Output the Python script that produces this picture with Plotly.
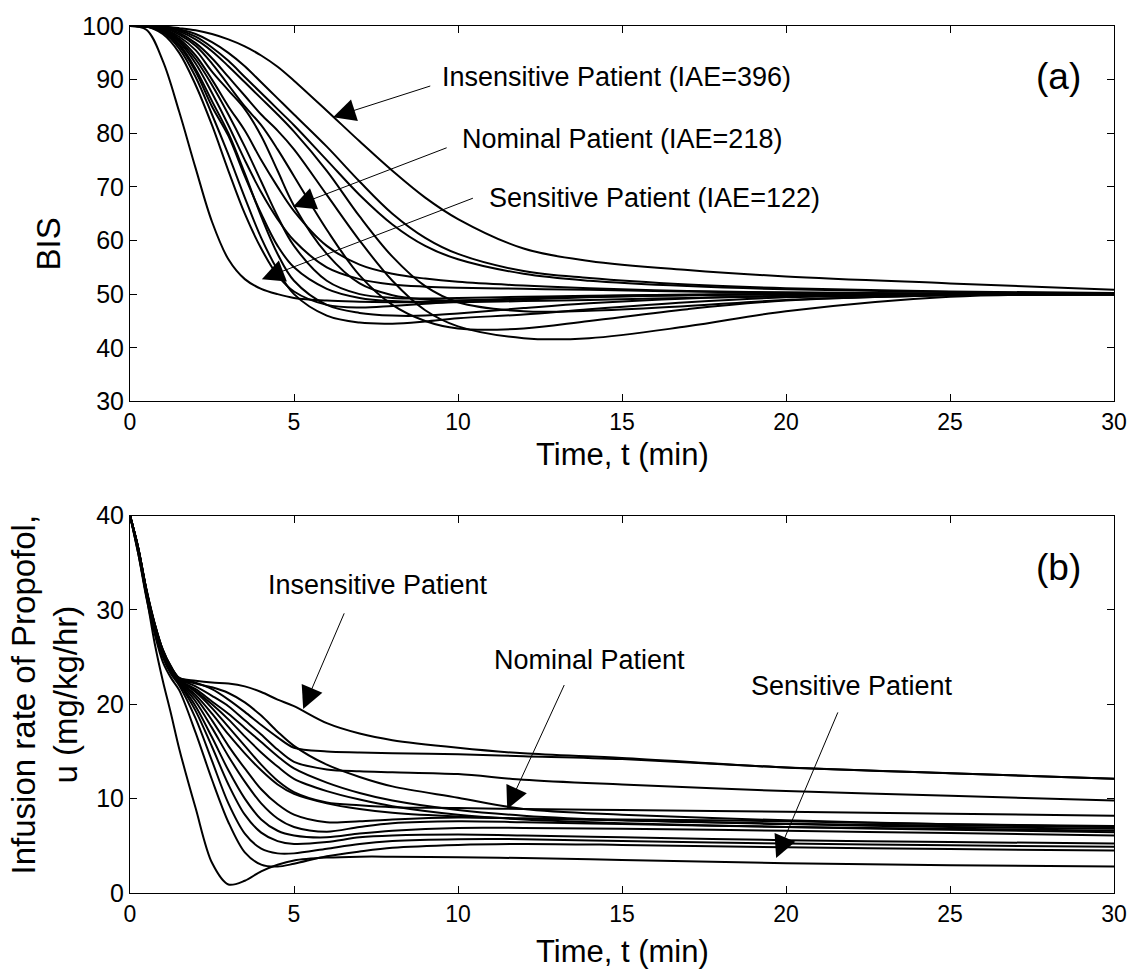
import plotly.graph_objects as go

# ---------------- data: (a) BIS response ----------------
t_bis = [0, 0.5, 1, 1.5, 2, 2.5, 3, 3.5, 4, 4.5, 5, 6, 7, 8, 9, 10, 12, 14, 17, 20, 25, 30]

bis_sensitive = [100, 99.3, 93.5, 84, 73.5, 63.5, 56.5, 52.8, 51, 50, 49.3, 48.8, 48.6, 48.5, 48.5, 48.5, 48.7, 48.9, 49.3, 49.6, 49.9, 50]
bis_p02 = [100, 99.9, 98.5, 95, 89, 81.5, 73, 65, 58.5, 53.5, 50.5, 48, 47.5, 47.8, 48.2, 48.6, 49.2, 49.6, 49.9, 50, 50, 50]
bis_p03 = [100, 99.9, 98.8, 95.8, 90.5, 83.5, 76, 68, 60.5, 54.5, 50, 46, 44.7, 44.5, 44.9, 45.5, 46.2, 47.2, 48.5, 49.4, 49.9, 50]
bis_p04 = [100, 99.9, 99, 96.3, 91.5, 85, 79.5, 72, 65, 59, 55, 51, 49.3, 48.7, 48.6, 48.8, 49.2, 49.5, 49.8, 50, 50, 50]
bis_p05 = [100, 99.9, 99.1, 96.6, 92, 86, 80, 72.5, 64.5, 57.5, 52.5, 48, 46.5, 46, 46, 46.4, 47.4, 48.3, 49.2, 49.7, 50, 50]
bis_p06 = [100, 99.9, 99.2, 97, 93, 87.5, 81.5, 75, 69, 64, 60, 55, 52.8, 51.8, 51.4, 51.2, 51, 50.8, 50.5, 50.3, 50.1, 50]
bis_p07 = [100, 99.9, 99.3, 97.3, 93.8, 89, 83.5, 77.5, 71, 64.5, 59, 52.5, 50, 49.3, 49.2, 49.3, 49.5, 49.7, 49.9, 50, 50, 50]
bis_p08 = [100, 99.9, 99.4, 97.6, 94.5, 90, 85, 80.5, 75, 70, 65.5, 59, 55.5, 53.8, 52.9, 52.3, 51.6, 51.1, 50.6, 50.3, 50.1, 50]
bis_nominal = [100, 99.9, 99.5, 98, 95.5, 91.5, 88, 84.5, 79.5, 73, 66.5, 57.5, 52, 49.8, 49, 48.8, 49, 49.4, 49.8, 50, 50, 50]
bis_p10 = [100, 100, 99.6, 98.4, 96.3, 93, 89, 85, 81.5, 77, 72, 62, 53.5, 48, 45, 43.6, 43.6, 45, 47.2, 48.8, 49.8, 50]
bis_p11 = [100, 100, 99.7, 98.7, 96.8, 94, 90.5, 87, 83.5, 80.5, 77, 68.5, 60, 52.5, 47, 44, 41.8, 41.8, 44, 46.8, 49.5, 50]
bis_p12 = [100, 100, 99.8, 99, 97.5, 95.3, 92.5, 89.5, 86.5, 83.5, 80.3, 73, 64.5, 57, 51.5, 48.5, 46.8, 46.9, 47.8, 48.9, 49.8, 50]
bis_p13 = [100, 100, 99.8, 99.2, 98, 96, 93.5, 90.5, 87.5, 84.5, 81.5, 75, 68.5, 63, 59, 56.5, 53.8, 52.5, 51.5, 50.9, 50.4, 50.1]
bis_p14 = [100, 100, 99.9, 99.4, 98.5, 97, 95, 92.5, 89.5, 86.5, 83.5, 77.5, 71, 65, 60.5, 57.5, 54.3, 53, 51.8, 51.1, 50.5, 50.2]
bis_insensitive = [100, 100, 99.9, 99.6, 99.2, 98.5, 97.5, 96.2, 94.5, 92.4, 89.8, 84.2, 78.5, 73, 68, 64, 58.5, 56.2, 54.5, 53.3, 52, 50.8]

bis_series = [bis_sensitive, bis_p02, bis_p03, bis_p04, bis_p05, bis_p06, bis_p07, bis_p08,
              bis_nominal, bis_p10, bis_p11, bis_p12, bis_p13, bis_p14, bis_insensitive]

# ---------------- data: (b) propofol infusion rate ----------------
t_u = [0, 0.25, 0.5, 0.75, 1, 1.25, 1.5, 2, 2.5, 3, 3.5, 4, 4.5, 5, 6, 7, 8, 10, 12, 15, 20, 25, 30]

u_sensitive = [40, 36, 31.5, 26.5, 22.5, 19, 15.3, 9.0, 3.2, 0.9, 1.3, 2.3, 3.0, 3.45, 3.75, 3.85, 3.85, 3.8, 3.7, 3.5, 3.15, 2.95, 2.8]
u_p02 = [40, 36, 31.3, 27.5, 24.5, 22.8, 21.5, 17, 12, 7.5, 4.3, 3.0, 2.8, 3.1, 3.9, 4.4, 4.8, 5.1, 5.2, 5.1, 4.85, 4.65, 4.5]
u_p03 = [40, 36.2, 31.5, 27.8, 25, 23.2, 22, 18.5, 14, 9.5, 6.3, 4.7, 4.2, 4.2, 4.7, 5.2, 5.5, 5.7, 5.7, 5.5, 5.25, 5.05, 4.9]
u_p04 = [40, 36.3, 31.7, 28, 25.2, 23.4, 22.2, 19.3, 15.5, 11.5, 8.3, 6.4, 5.5, 5.2, 5.4, 5.9, 6.1, 6.2, 6.1, 5.9, 5.6, 5.4, 5.25]
u_p05 = [40, 36.4, 31.8, 28.1, 25.3, 23.5, 22.3, 19.8, 16.5, 13, 10, 7.8, 6.6, 6.1, 5.9, 6.3, 6.6, 6.9, 6.9, 6.8, 6.6, 6.35, 6.1]
u_p06 = [40, 36.4, 31.9, 28.2, 25.4, 23.6, 22.4, 20.3, 17.5, 14.5, 11.8, 9.5, 7.9, 7.0, 6.5, 7.0, 7.4, 7.6, 7.5, 7.3, 7.0, 6.7, 6.45]
u_p07 = [40, 36.5, 32, 28.3, 25.5, 23.7, 22.5, 20.7, 18.3, 15.6, 13.2, 11, 9.4, 8.3, 7.5, 7.6, 7.8, 8.0, 7.9, 7.7, 7.35, 7.15, 7.0]
u_p08 = [40, 36.5, 32, 28.3, 25.5, 23.7, 22.5, 21, 19, 16.8, 14.8, 13, 11.5, 10.5, 9.5, 8.9, 8.5, 8.1, 7.9, 7.8, 7.6, 7.3, 7.1]
u_nominal = [40, 36.5, 32, 28.4, 25.6, 23.8, 22.6, 21.3, 19.6, 17.6, 15.6, 13.6, 11.9, 10.7, 9.6, 9.3, 9.1, 9.0, 8.9, 8.8, 8.6, 8.4, 8.2]
u_p10 = [40, 36.5, 32, 28.4, 25.6, 23.8, 22.6, 21.6, 20.3, 19, 17.5, 16, 14.5, 13.2, 11.7, 10.6, 9.8, 8.8, 8.2, 7.7, 7.3, 7.0, 6.8]
u_p11 = [40, 36.5, 32, 28.4, 25.6, 23.8, 22.6, 21.4, 20, 18.4, 16.6, 14.9, 13.4, 12.1, 10.8, 9.9, 9.2, 8.3, 7.8, 7.4, 7.0, 6.8, 6.6]
u_p12 = [40, 36.6, 32.1, 28.5, 25.7, 23.9, 22.7, 21.9, 20.9, 19.8, 18.3, 16.8, 15.2, 13.9, 13.1, 12.9, 12.8, 12.6, 12.0, 11.5, 10.8, 10.3, 9.8]
u_p13 = [40, 36.6, 32.1, 28.5, 25.7, 23.9, 22.7, 22.2, 21.8, 21.2, 20.2, 18.8, 17.1, 15.6, 13.6, 12.3, 11.3, 10.1, 8.9, 8.3, 7.7, 7.3, 7.0]
u_p14 = [40, 36.6, 32.2, 28.6, 25.8, 24, 22.8, 22.3, 21.6, 20.5, 19.2, 17.8, 16.5, 15.4, 15.0, 14.9, 14.8, 14.7, 14.5, 14.2, 13.3, 12.7, 12.1]
u_insensitive = [40, 36.6, 32.2, 28.6, 25.8, 24, 22.8, 22.5, 22.3, 22.2, 21.9, 21.3, 20.5, 19.8, 18.0, 16.9, 16.2, 15.4, 14.8, 14.3, 13.3, 12.7, 12.1]

u_series = [u_sensitive, u_p02, u_p03, u_p04, u_p05, u_p06, u_p07, u_p08, u_nominal,
            u_p10, u_p11, u_p12, u_p13, u_p14, u_insensitive]

x_ticks = [0, 5, 10, 15, 20, 25, 30]
bis_ticks = [30, 40, 50, 60, 70, 80, 90, 100]
u_ticks = [0, 10, 20, 30, 40]

# ---------------- figure ----------------
FONT = "Liberation Sans, Arial, Helvetica, sans-serif"
fig = go.Figure()

for s in bis_series:
    fig.add_trace(go.Scatter(x=t_bis, y=s, mode="lines", xaxis="x", yaxis="y",
                             line=dict(color="black", width=2, shape="spline", smoothing=1.0),
                             showlegend=False, hoverinfo="skip"))
for s in u_series:
    fig.add_trace(go.Scatter(x=t_u, y=s, mode="lines", xaxis="x2", yaxis="y2",
                             line=dict(color="black", width=2, shape="spline", smoothing=0.9),
                             showlegend=False, hoverinfo="skip"))

axis_common = dict(showline=True, linecolor="black", linewidth=1, mirror="ticks",
                   ticks="inside", ticklen=7, tickcolor="black", showgrid=False,
                   zeroline=False)

fig.update_layout(
    width=1146, height=971,
    margin=dict(l=130, r=32, t=20, b=78),
    paper_bgcolor="white", plot_bgcolor="white",
    font=dict(family=FONT, color="black"),
    xaxis=dict(domain=[0, 1], range=[0, 30], tickvals=x_ticks, anchor="y",
               tickfont=dict(size=23), **axis_common),
    yaxis=dict(domain=[0.567, 1], range=[30, 100], tickvals=bis_ticks, anchor="x",
               tickfont=dict(size=25), **axis_common),
    xaxis2=dict(domain=[0, 1], range=[0, 30], tickvals=x_ticks, anchor="y2",
                tickfont=dict(size=23), **axis_common),
    yaxis2=dict(domain=[0, 0.4353], range=[0, 40], tickvals=u_ticks, anchor="x2",
                tickfont=dict(size=25), **axis_common),
)

ann = []
def label(text, x, y, xref="x", yref="y", size=27, angle=0, xanchor="left"):
    ann.append(dict(text=text, x=x, y=y, xref=xref, yref=yref, showarrow=False,
                    font=dict(size=size, family=FONT, color="black"),
                    textangle=angle, xanchor=xanchor, yanchor="middle"))

def arrow(xt, yt, xh, yh, xref="x", yref="y"):
    ann.append(dict(text="", x=xh, y=yh, ax=xt, ay=yt, xref=xref, yref=yref,
                    axref=xref, ayref=yref, showarrow=True, arrowhead=2,
                    arrowsize=4.5, arrowwidth=1, arrowcolor="black", standoff=0))

# axis titles
label("BIS", -0.0833, 0.748, "paper", "paper", size=33, angle=-90, xanchor="center")
label("Infusion rate of Propofol,<br>u (mg/kg/hr)", -0.0864, 0.229, "paper", "paper",
      size=33, angle=-90, xanchor="center")
label("Time, t (min)", 0.5, 0.5055, "paper", "paper", size=31, xanchor="center")
label("Time, t (min)", 0.5, -0.0676, "paper", "paper", size=31, xanchor="center")

# panel (a)
label("(a)", 28.3, 90.6, size=37, xanchor="center")
label("Insensitive Patient (IAE=396)", 9.45, 90.4)
arrow(9.2, 88.9, 6.19, 83.0)
label("Nominal Patient (IAE=218)", 10.06, 79.0)
arrow(9.7, 77.4, 4.97, 66.3)
label("Sensitive Patient (IAE=122)", 10.88, 68.0)
arrow(10.5, 68.0, 4.02, 52.8)

# panel (b)
label("(b)", 28.3, 34.5, "x2", "y2", size=37, xanchor="center")
label("Insensitive Patient", 7.57, 32.6, "x2", "y2", xanchor="center")
arrow(6.55, 29.8, 5.28, 19.5, "x2", "y2")
label("Nominal Patient", 14.0, 24.7, "x2", "y2", xanchor="center")
arrow(13.26, 22.2, 11.5, 8.9, "x2", "y2")
label("Sensitive Patient", 22.0, 21.9, "x2", "y2", xanchor="center")
arrow(21.6, 19.3, 19.7, 3.7, "x2", "y2")

fig.update_layout(annotations=ann)
fig.write_html("out.html")
